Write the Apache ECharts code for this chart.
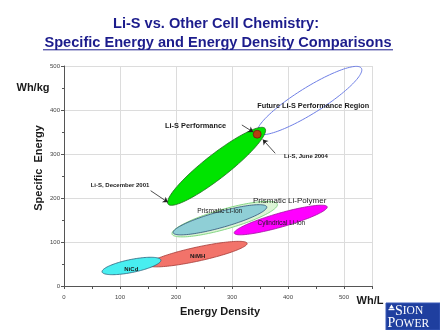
<!DOCTYPE html>
<html><head><meta charset="utf-8">
<script src="https://cdn.jsdelivr.net/npm/echarts@6/dist/echarts.min.js"></script>
<style>html,body{margin:0;padding:0;background:#fff}#c{width:440px;height:330px}</style>
</head><body><div id="c"></div>
<script>
// ---- data (Wh/L = energy density, Wh/kg = specific energy) ----
const chemistries   = ['Future Li-S Performance Region','Li-S Performance','Prismatic Li-Polymer','Prismatic Li-ion','Cylindrical Li-ion','NiMH','NiCd'];
const densityLow    = [346, 186, 193, 195, 304, 150,  68];
const densityHigh   = [531, 359, 381, 362, 470, 327, 173];
const energyLow     = [348, 186, 118, 121, 120,  48,  32];
const energyHigh    = [495, 358, 186, 180, 180,  97,  59];
const liS2004       = [345, 345];   // Li-S, June 2004
const liS2001       = [186, 186];   // Li-S, December 2001
const xTicks        = [0, 100, 200, 300, 400, 500];
const yTicks        = [0, 100, 200, 300, 400, 500];

// ---- styling / layout (not data) ----
const looks = [
  {half: 13,  fill: 'rgba(0,0,0,0)', stroke: '#6f7fe6', lw: 1},
  {half: 12,  fill: '#00e400', stroke: '#1d6a1d', lw: 0.8},
  {half: 10,  fill: '#dcf5d6', stroke: '#86d786', lw: 1},
  {half: 8,   fill: '#8fcfd6', stroke: '#2c4f78', lw: 0.8},
  {half: 7,   fill: '#ff00ff', stroke: '#a010a0', lw: 0.8},
  {half: 7,   fill: '#f2736a', stroke: '#a43a36', lw: 0.8},
  {half: 6.5, fill: '#48eef0', stroke: '#2c5f7a', lw: 0.8}
];
const notes = [
  {t: 'Li-S Performance', at: [235, 364], size: 7.4, w: 'bold'},
  {t: 'Future Li-S Performance Region', at: [445, 410], size: 7.3, w: 'bold'},
  {t: 'Li-S, June 2004', at: [432, 294], size: 6, w: 'bold'},
  {t: 'Li-S, December 2001', at: [100, 228], size: 6, w: 'bold'},
  {t: 'Prismatic Li-Polymer', at: [403, 194], size: 8, w: 'normal'},
  {t: 'Prismatic Li-ion', at: [278, 169], size: 6.6, w: 'normal'},
  {t: 'Cylindrical Li-ion', at: [388, 142.5], size: 6.5, w: 'normal'},
  {t: 'NiMH', at: [238.5, 68], size: 6, w: 'bold'},
  {t: 'NiCd', at: [120.3, 38.6], size: 6, w: 'bold'}
];
const arrows = [
  [[317.6, 366], [337.8, 350]],
  [[377.2, 301.6], [355, 333]],
  [[154.7, 216.6], [185.6, 190.2]]
];

const ellipseData = chemistries.map((n, i) => ({name: n, value: [densityLow[i], energyLow[i], densityHigh[i], energyHigh[i]]}));

function ellipseItem(params, api) {
  const L = looks[params.dataIndex];
  const p1 = api.coord([api.value(0), api.value(1)]);
  const p2 = api.coord([api.value(2), api.value(3)]);
  const cx = (p1[0] + p2[0]) / 2, cy = (p1[1] + p2[1]) / 2;
  const dx = p2[0] - p1[0], dy = p2[1] - p1[1];
  const a = Math.hypot(dx, dy) / 2;
  const ux = dx / (2 * a), uy = dy / (2 * a), vx = -uy, vy = ux;
  const pts = [];
  for (let k = 0; k < 120; k++) {
    const t = 2 * Math.PI * k / 120;
    pts.push([cx + a * Math.cos(t) * ux + L.half * Math.sin(t) * vx,
              cy + a * Math.cos(t) * uy + L.half * Math.sin(t) * vy]);
  }
  return {type: 'polygon', shape: {points: pts}, style: {fill: L.fill, stroke: L.stroke, lineWidth: L.lw}};
}
function noteItem(params, api) {
  const n = notes[params.dataIndex];
  const p = api.coord(n.at);
  return {type: 'text', x: p[0], y: p[1], style: {text: n.t, fill: '#1a1a1a', align: 'center', verticalAlign: 'middle',
    font: n.w + ' ' + n.size + 'px "Liberation Sans", Arial, sans-serif'}};
}

const chart = echarts.init(document.getElementById('c'), null, {renderer: 'canvas'});
const titleColor = '#1c1c8c';
const nameFont = 'bold 11px "Liberation Sans", Arial, sans-serif';
chart.setOption({
  animation: false,
  backgroundColor: '#fff',
  grid: {left: 64, right: 68, top: 66, bottom: 44, containLabel: false, outerBoundsMode: 'none'},
  xAxis: {
    type: 'value', min: xTicks[0], max: 550, interval: 100,
    axisLine: {lineStyle: {color: '#555', width: 1}},
    axisTick: {show: true, length: 3, lineStyle: {color: '#555'}},
    minorTick: {show: true, splitNumber: 2, length: 3, lineStyle: {color: '#555'}},
    splitLine: {show: true, lineStyle: {color: '#dcdcdc', width: 1}},
    axisLabel: {showMaxLabel: false, color: '#444', fontSize: 6, margin: 8, fontFamily: 'Liberation Sans',
      formatter: v => xTicks.includes(v) ? String(v) : ''}
  },
  yAxis: {
    type: 'value', min: yTicks[0], max: yTicks[yTicks.length - 1], interval: 100,
    axisLine: {show: true, lineStyle: {color: '#555', width: 1}},
    axisTick: {show: true, length: 3, lineStyle: {color: '#555'}},
    minorTick: {show: true, splitNumber: 2, length: 2, lineStyle: {color: '#555'}},
    splitLine: {show: true, lineStyle: {color: '#dcdcdc', width: 1}},
    axisLabel: {color: '#444', fontSize: 6, margin: 4, fontFamily: 'Liberation Sans'}
  },
  graphic: [
    {type: 'text', x: 216, y: 24, style: {text: 'Li-S vs. Other Cell Chemistry:', align: 'center', verticalAlign: 'middle',
      fill: titleColor, font: 'bold 14.6px "Liberation Sans", Arial, sans-serif'}},
    {type: 'text', x: 218, y: 42.5, style: {text: 'Specific Energy and Energy Density Comparisons', align: 'center', verticalAlign: 'middle',
      fill: titleColor, font: 'bold 14.6px "Liberation Sans", Arial, sans-serif'}},
    {type: 'line', shape: {x1: 43, y1: 49.8, x2: 393, y2: 49.8}, style: {stroke: titleColor, lineWidth: 1}},
    {type: 'text', x: 39, y: 168, rotation: Math.PI / 2, style: {text: 'Specific  Energy', align: 'center', verticalAlign: 'middle',
      fill: '#1a1a1a', font: nameFont}},
    {type: 'text', x: 220, y: 312, style: {text: 'Energy Density', align: 'center', verticalAlign: 'middle',
      fill: '#1a1a1a', font: nameFont}},
    {type: 'text', x: 33, y: 88, style: {text: 'Wh/kg', align: 'center', verticalAlign: 'middle', fill: '#1a1a1a', font: nameFont}},
    {type: 'text', x: 370, y: 300.5, style: {text: 'Wh/L', align: 'center', verticalAlign: 'middle', fill: '#1a1a1a', font: nameFont}},
    {type: 'group', x: 386, y: 303, children: [
      {type: 'rect', shape: {x: 0, y: 0, width: 54, height: 27}, style: {fill: '#1f3f9f', stroke: '#3a5ab8', lineWidth: 1}},
      {type: 'polygon', shape: {points: [[3, 5.5], [5.5, 1.5], [8, 5.5]]}, style: {fill: '#fff'}},
      {type: 'rect', shape: {x: 2.5, y: 6, width: 6, height: 1.2}, style: {fill: '#fff'}},
      {type: 'text', x: 9, y: 1, style: {text: '{a|S}{b|ION}', fill: '#fff',
        rich: {a: {fontSize: 14, fontFamily: 'Liberation Serif', fill: '#fff', color: '#fff'}, b: {fontSize: 11.5, fontFamily: 'Liberation Serif', color: '#fff', fill: '#fff'}}}},
      {type: 'text', x: 1.5, y: 13.5, style: {text: '{a|P}{b|OWER}', fill: '#fff',
        rich: {a: {fontSize: 14, fontFamily: 'Liberation Serif', color: '#fff', fill: '#fff'}, b: {fontSize: 11.5, fontFamily: 'Liberation Serif', color: '#fff', fill: '#fff'}}}}
    ]}
  ],
  series: [
    {type: 'custom', name: 'regions', renderItem: ellipseItem, data: ellipseData, encode: {x: [0, 2], y: [1, 3]}, z: 2, silent: true},
    {type: 'scatter', name: 'Li-S, June 2004', data: [liS2004], symbolSize: 8, z: 3,
      itemStyle: {color: '#e41414', borderColor: '#6a0a0a', borderWidth: 0.8}},
    {type: 'lines', coordinateSystem: 'cartesian2d', z: 4, symbol: ['none', 'arrow'], symbolSize: 5,
      lineStyle: {color: '#222', width: 0.8, opacity: 1},
      data: arrows.map(c => ({coords: c}))},
    {type: 'custom', name: 'labels', renderItem: noteItem, data: notes.map(n => n.at), encode: {x: 0, y: 1}, z: 5, silent: true}
  ]
});
</script></body></html>
